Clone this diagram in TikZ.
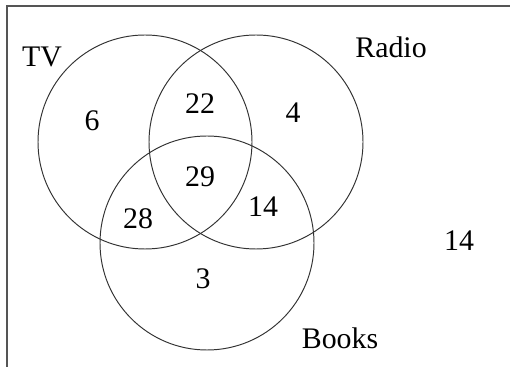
\documentclass[tikz,border=0pt]{standalone}
\usepackage{xcolor}
\usepackage{fontspec}
\setmainfont{Liberation Serif}
\usepackage{tikz}
\definecolor{linegray}{HTML}{333333}
\definecolor{framegray}{HTML}{555555}

\begin{document}
\begin{tikzpicture}[x=2mm,y=2mm,
    setline/.style={linegray,line width=0.55pt},
    lab/.style={inner sep=0pt,font=\fontsize{17}{20}\selectfont}]
  \useasboundingbox (0,0) rectangle (51,36.7);
  \draw[framegray,line width=0.6pt] (0.7,0) -- (0.7,36.1) -- (51,36.1);
  % the three sets
  \coordinate (tv) at (14.5,22.5);
  \coordinate (radio) at (25.6,22.5);
  \coordinate (books) at (20.7,12.4);
  \foreach \c in {tv,radio,books}
    \draw[setline] (\c) circle (10.7);
  % set names
  \node[lab] (tvname) at (4.2,31.0) {TV};
  \node[lab] (radioname) at (39.1,32.0) {Radio};
  \node[lab] (booksname) at (34.0,2.9) {Books};
  % counts
  \node[lab] (tvonly) at (9.2,24.6) {6};
  \node[lab] (tvradio) at (20.0,26.3) {22};
  \node[lab] (radioonly) at (29.3,25.4) {4};
  \node[lab] (all) at (20.0,19.0) {29};
  \node[lab] (tvbooks) at (13.8,14.8) {28};
  \node[lab] (radiobooks) at (26.3,16.0) {14};
  \node[lab] (booksonly) at (20.3,8.8) {3};
  \node[lab] (none) at (45.9,12.6) {14};
\end{tikzpicture}
\end{document}
